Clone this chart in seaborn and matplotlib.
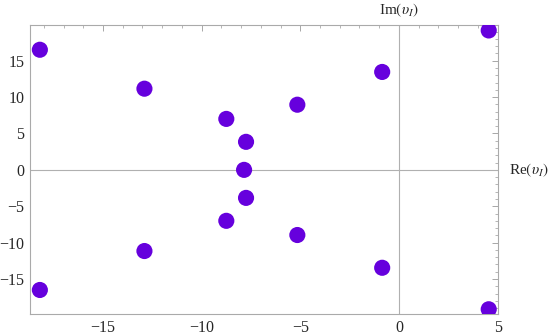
import matplotlib
matplotlib.use("Agg")
from matplotlib import pyplot as plt
from matplotlib.ticker import MultipleLocator
import seaborn as sns
import pandas as pd

# 数据：极点的实部和虚部
re_vals = [-18.2, -12.9, -8.75, -7.75, -7.85, -5.15, -0.85, 4.55,
           -18.2, -12.9, -8.75, -7.75, -5.15, -0.85, 4.55]
im_vals = [16.5, 11.15, 7.0, 3.85, 0.0, 8.95, 13.45, 19.15,
           -16.5, -11.15, -7.0, -3.85, -8.95, -13.45, -19.15]
x_ticks = [-15, -10, -5, 0, 5]
y_ticks = [-15, -10, -5, 0, 5, 10, 15]

sns.set_style("white")
plt.rcParams['font.family'] = ['Liberation Serif', 'DejaVu Serif']
plt.rcParams['mathtext.fontset'] = 'stix'

df = pd.DataFrame({'re': re_vals, 'im': im_vals})

fig = plt.figure(figsize=(5.5, 3.35), dpi=100)
ax = fig.add_axes([30 / 550, 1 - 314 / 335, 468 / 550, 289 / 335])

# 坐标轴线
ax.axhline(0, color='#b0b0b0', lw=0.8, zorder=1)
ax.axvline(0, color='#b0b0b0', lw=0.8, zorder=1)

sns.scatterplot(data=df, x='re', y='im', ax=ax, s=135, color='#6600dd',
                edgecolor='none', zorder=3, legend=False)

ax.set_xlim(-18.7, 5.02)
ax.set_ylim(-19.8, 19.9)
ax.set_xticks(x_ticks)
ax.set_yticks(y_ticks)
ax.set_xticklabels(['\u2212' + str(-t) if t < 0 else str(t) for t in x_ticks])
ax.set_yticklabels(['\u2212' + str(-t) if t < 0 else str(t) for t in y_ticks])
ax.xaxis.set_minor_locator(MultipleLocator(1))
ax.yaxis.set_minor_locator(MultipleLocator(1))
ax.tick_params(which='both', direction='in', top=True, right=True,
               color='#999999', labelsize=11.5, pad=4)
ax.tick_params(which='major', length=4, width=0.6)
ax.tick_params(which='minor', length=2, width=0.5)
for sp in ax.spines.values():
    sp.set_color('#aaaaaa')
    sp.set_linewidth(0.8)
ax.set_xlabel('')
ax.set_ylabel('')

# 轴标签
ax.text(0, 1.02, r'Im$(\upsilon_I)$', transform=ax.get_xaxis_transform(),
        ha='center', va='bottom', fontsize=11)
ax.text(1.024, 0, r'Re$(\upsilon_I)$', transform=ax.get_yaxis_transform(),
        ha='left', va='center', fontsize=11)

fig.savefig('out.png', dpi=100)
